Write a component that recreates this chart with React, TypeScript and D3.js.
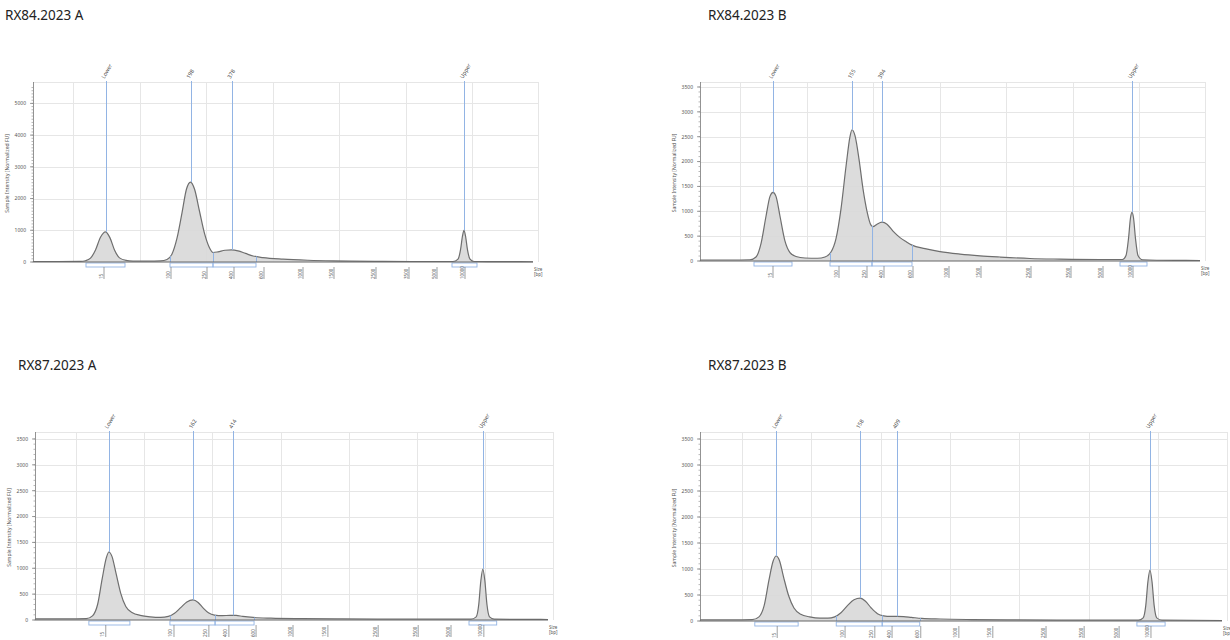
import React from 'react';
import * as d3 from 'd3';

type Pt = [number, number];

// ladder bands of the D5000 tape, shown under each x axis
const ladderSizes = ['15', '100', '250', '400', '600', '1000', '1500', '2500', '3500', '5000', '10000'];

// where each ladder band sits along the migration axis (0 = y axis, 1 = axis end)
const ladder84A = [0.14, 0.274, 0.346, 0.4, 0.46, 0.538, 0.6, 0.684, 0.75, 0.806, 0.862];
const ladder84B = [0.144, 0.276, 0.332, 0.366, 0.424, 0.496, 0.56, 0.66, 0.74, 0.804, 0.864];
const ladder87A = [0.136, 0.269, 0.337, 0.376, 0.429, 0.501, 0.569, 0.667, 0.745, 0.809, 0.873];
const ladder87B = [0.146, 0.276, 0.333, 0.366, 0.421, 0.494, 0.559, 0.661, 0.734, 0.801, 0.862];

// vertical grid lines, same fractions on every panel
const gridFractions = [0.08, 0.213, 0.346, 0.479, 0.612, 0.745, 0.878, 1.01];

// traces: [migration position, normalized FU]
const trace84A: Pt[] = [
  [0, 15], [0.05, 15], [0.095, 18], [0.105, 40], [0.115, 120], [0.125, 380], [0.135, 780], [0.145, 950],
  [0.154, 760], [0.163, 380], [0.173, 130], [0.186, 50], [0.2, 30], [0.23, 25], [0.255, 35], [0.268, 80],
  [0.278, 250], [0.288, 750], [0.298, 1550], [0.307, 2300], [0.315, 2520], [0.323, 2300], [0.333, 1600],
  [0.343, 900], [0.352, 480], [0.36, 300], [0.37, 320], [0.384, 370], [0.397, 380], [0.41, 350],
  [0.425, 270], [0.44, 190], [0.46, 140], [0.5, 90], [0.55, 55], [0.6, 35], [0.7, 20], [0.8, 15],
  [0.84, 15], [0.85, 90], [0.855, 380], [0.859, 820], [0.862, 1000], [0.865, 820], [0.869, 380],
  [0.874, 90], [0.882, 15], [0.95, 10], [1, 8],
];
const trace84B: Pt[] = [
  [0, 20], [0.06, 20], [0.1, 25], [0.112, 80], [0.122, 350], [0.132, 900], [0.14, 1300], [0.146, 1380],
  [0.152, 1300], [0.16, 900], [0.17, 400], [0.18, 170], [0.192, 90], [0.21, 60], [0.235, 55], [0.25, 80],
  [0.262, 180], [0.272, 450], [0.282, 1050], [0.292, 1900], [0.3, 2500], [0.304, 2640], [0.31, 2520],
  [0.318, 2050], [0.326, 1450], [0.334, 1000], [0.342, 720], [0.346, 690], [0.354, 740], [0.364, 780],
  [0.374, 740], [0.386, 600], [0.4, 470], [0.412, 390], [0.424, 320], [0.45, 250], [0.48, 190],
  [0.52, 140], [0.56, 105], [0.6, 80], [0.66, 50], [0.72, 38], [0.8, 30], [0.845, 30], [0.852, 110],
  [0.857, 450], [0.861, 870], [0.864, 980], [0.867, 870], [0.871, 450], [0.876, 110], [0.885, 25],
  [0.95, 12], [1, 10],
];
const trace87A: Pt[] = [
  [0, 20], [0.06, 20], [0.1, 25], [0.112, 80], [0.122, 300], [0.131, 800], [0.139, 1200], [0.144, 1315],
  [0.15, 1230], [0.158, 900], [0.167, 520], [0.177, 260], [0.19, 140], [0.205, 90], [0.225, 60],
  [0.245, 50], [0.26, 70], [0.272, 130], [0.284, 240], [0.296, 350], [0.308, 390], [0.318, 340],
  [0.328, 230], [0.338, 140], [0.35, 95], [0.365, 85], [0.38, 90], [0.392, 88], [0.405, 70], [0.425, 50],
  [0.46, 35], [0.52, 25], [0.6, 20], [0.7, 18], [0.85, 15], [0.86, 60], [0.865, 300], [0.869, 750],
  [0.873, 985], [0.877, 750], [0.881, 300], [0.886, 60], [0.895, 15], [1, 10],
];
const trace87B: Pt[] = [
  [0, 20], [0.06, 20], [0.1, 25], [0.113, 80], [0.123, 300], [0.132, 780], [0.14, 1150], [0.146, 1250],
  [0.152, 1170], [0.16, 850], [0.17, 480], [0.18, 250], [0.193, 130], [0.21, 80], [0.23, 55], [0.245, 55],
  [0.258, 80], [0.27, 160], [0.282, 290], [0.295, 410], [0.307, 440], [0.317, 380], [0.328, 250],
  [0.34, 140], [0.352, 100], [0.365, 88], [0.377, 90], [0.39, 85], [0.405, 70], [0.425, 50], [0.46, 38],
  [0.52, 28], [0.6, 22], [0.7, 18], [0.84, 15], [0.849, 60], [0.854, 300], [0.858, 750], [0.862, 980],
  [0.866, 750], [0.87, 300], [0.875, 60], [0.885, 15], [1, 10],
];

// called peaks: label and position
const peakLabels84A = ['Lower', '198', '378', 'Upper'];
const peakPos84A = [0.145, 0.315, 0.397, 0.862];
const peakLabels84B = ['Lower', '155', '394', 'Upper'];
const peakPos84B = [0.146, 0.304, 0.364, 0.864];
const peakLabels87A = ['Lower', '162', '414', 'Upper'];
const peakPos87A = [0.144, 0.308, 0.386, 0.873];
const peakLabels87B = ['Lower', '158', '409', 'Upper'];
const peakPos87B = [0.146, 0.307, 0.377, 0.862];

// integration regions drawn as boxes under the baseline
const regions84A: Pt[] = [[0.106, 0.184], [0.274, 0.36], [0.36, 0.446], [0.838, 0.888]];
const regions84B: Pt[] = [[0.108, 0.184], [0.26, 0.344], [0.344, 0.424], [0.84, 0.894]];
const regions87A: Pt[] = [[0.105, 0.185], [0.263, 0.351], [0.351, 0.427], [0.846, 0.9]];
const regions87B: Pt[] = [[0.105, 0.188], [0.261, 0.349], [0.349, 0.421], [0.837, 0.891]];

const titles = ['RX84.2023 A', 'RX84.2023 B', 'RX87.2023 A', 'RX87.2023 B'];

const BLUE = '#92b4e4';
const GRID = '#e6e6e6';
const FONT = '"Noto Sans", "Open Sans", sans-serif';

const bis = d3.bisector((d: Pt) => d[0]).left;
function valueAt(trace: Pt[], p: number) {
  const i = bis(trace, p);
  if (i <= 0) return trace[0][1];
  if (i >= trace.length) return trace[trace.length - 1][1];
  const a = trace[i - 1];
  const b = trace[i];
  const t = (p - a[0]) / (b[0] - a[0]);
  return a[1] + t * (b[1] - a[1]);
}

// put 1px lines on the pixel centre
const snap = (v: number) => Math.round(v) + 0.5;

type PanelProps = {
  title: string;
  titleX: number;
  titleY: number;
  left: number;
  right: number;
  top: number;
  bottom: number;
  yMax: number;
  yStep: number;
  trace: Pt[];
  ladder: number[];
  peakLabels: string[];
  peakPos: number[];
  regions: Pt[];
};

function Panel(p: PanelProps) {
  const x = d3.scaleLinear().domain([0, 1]).range([p.left, p.right]);
  const y = d3.scaleLinear().domain([0, p.yMax]).range([p.bottom, p.top]);
  const area = d3.area<Pt>().x(d => x(d[0])).y0(y(0)).y1(d => y(d[1])).curve(d3.curveMonotoneX);
  const line = d3.line<Pt>().x(d => x(d[0])).y(d => y(d[1])).curve(d3.curveMonotoneX);
  const majors = d3.range(0, p.yMax + 1, p.yStep);
  const minors = d3.range(0, p.yMax + 1, 100);
  const gridTop = p.top - 3;

  // interior region edges get a line from baseline up to the trace
  const edges = Array.from(new Set(p.regions.slice(1, -1).flatMap(r => r)));

  return (
    <g>
      <text x={p.titleX} y={p.titleY} fontFamily={FONT} fontSize={13.5} fill="#222">{p.title}</text>

      {/* grid */}
      {majors.slice(1).map(v => (
        <line key={'h' + v} x1={x(0)} x2={x(1.01)} y1={snap(y(v))} y2={snap(y(v))} stroke={GRID} />
      ))}
      <line x1={x(0)} x2={x(1.01)} y1={snap(gridTop)} y2={snap(gridTop)} stroke={GRID} />
      {gridFractions.map(f => (
        <line key={'v' + f} x1={snap(x(f))} x2={snap(x(f))} y1={gridTop} y2={y(0)} stroke={GRID} />
      ))}

      {/* trace */}
      <path d={area(p.trace) || ''} fill="#d8d8d8" fillOpacity={0.9} />
      <path d={line(p.trace) || ''} fill="none" stroke="#6e6e6e" strokeWidth={1.2} />

      {edges.map(e => (
        <line key={'e' + e} x1={snap(x(e))} x2={snap(x(e))} y1={y(0)} y2={y(valueAt(p.trace, e))} stroke={BLUE} strokeWidth={1} />
      ))}

      {/* peak markers */}
      {p.peakPos.map((pos, i) => (
        <g key={'pk' + i}>
          <line x1={snap(x(pos))} x2={snap(x(pos))} y1={p.top - 4} y2={y(valueAt(p.trace, pos))} stroke={BLUE} strokeWidth={1} />
          <text
            transform={`translate(${x(pos) - 1},${p.top - 6}) rotate(-60)`}
            fontFamily={FONT}
            fontSize={5.5}
            fill="#444"
          >
            {p.peakLabels[i]}
          </text>
        </g>
      ))}

      {/* region boxes */}
      {p.regions.map((r, i) => (
        <rect key={'r' + i} x={x(r[0])} y={y(0) + 1} width={x(r[1]) - x(r[0])} height={4} fill="none" stroke={BLUE} strokeWidth={0.9} />
      ))}

      {/* y axis */}
      <line x1={snap(x(0))} x2={snap(x(0))} y1={gridTop} y2={y(0)} stroke="#777" strokeWidth={0.8} />
      {minors.map(v => (
        <line key={'m' + v} x1={x(0) - 1.5} x2={x(0)} y1={y(v)} y2={y(v)} stroke="#888" strokeWidth={0.6} />
      ))}
      {majors.map(v => (
        <g key={'t' + v}>
          <line x1={x(0) - 3} x2={x(0)} y1={y(v)} y2={y(v)} stroke="#777" strokeWidth={0.7} />
          <text x={x(0) - 7} y={y(v) + 1.8} textAnchor="end" fontFamily={FONT} fontSize={5} fill="#555">{v}</text>
        </g>
      ))}
      <text
        transform={`translate(${x(0) - 24},${(y(0) + p.top) / 2}) rotate(-90)`}
        textAnchor="middle"
        fontFamily={FONT}
        fontSize={5}
        fill="#555"
      >
        Sample Intensity [Normalized FU]
      </text>

      {/* x axis */}
      <line x1={x(0)} x2={x(1)} y1={y(0)} y2={y(0)} stroke="#666" strokeWidth={1} />
      {p.ladder.map((pos, i) => (
        <g key={'l' + i}>
          <line x1={x(pos) + 1} x2={x(pos) + 1} y1={y(0) + 5} y2={y(0) + 17} stroke="#777" strokeWidth={0.7} />
          <text
            transform={`translate(${x(pos) - 0.5},${y(0) + 17}) rotate(-90)`}
            fontFamily={FONT}
            fontSize={4.5}
            fill="#555"
          >
            {ladderSizes[i]}
          </text>
        </g>
      ))}
      <text x={x(1) + 1} y={y(0) + 9} fontFamily={FONT} fontSize={4.5} fill="#555">Size</text>
      <text x={x(1) + 1} y={y(0) + 14} fontFamily={FONT} fontSize={4.5} fill="#555">[bp]</text>
    </g>
  );
}

export default function App() {
  return (
    <svg width={1230} height={640} style={{ position: 'absolute', left: 0, top: 0, background: '#fff' }}>
      <rect width={1230} height={640} fill="#fff" />
      <Panel title={titles[0]} titleX={5} titleY={20} left={33} right={533} top={85} bottom={262} yMax={5580} yStep={1000}
        trace={trace84A} ladder={ladder84A} peakLabels={peakLabels84A} peakPos={peakPos84A} regions={regions84A} />
      <Panel title={titles[1]} titleX={708} titleY={20} left={700} right={1200} top={85} bottom={261} yMax={3540} yStep={500}
        trace={trace84B} ladder={ladder84B} peakLabels={peakLabels84B} peakPos={peakPos84B} regions={regions84B} />
      <Panel title={titles[2]} titleX={18} titleY={370} left={35} right={548} top={435} bottom={620} yMax={3577} yStep={500}
        trace={trace87A} ladder={ladder87A} peakLabels={peakLabels87A} peakPos={peakPos87A} regions={regions87A} />
      <Panel title={titles[3]} titleX={708} titleY={370} left={700} right={1222} top={435} bottom={621} yMax={3577} yStep={500}
        trace={trace87B} ladder={ladder87B} peakLabels={peakLabels87B} peakPos={peakPos87B} regions={regions87B} />
    </svg>
  );
}
